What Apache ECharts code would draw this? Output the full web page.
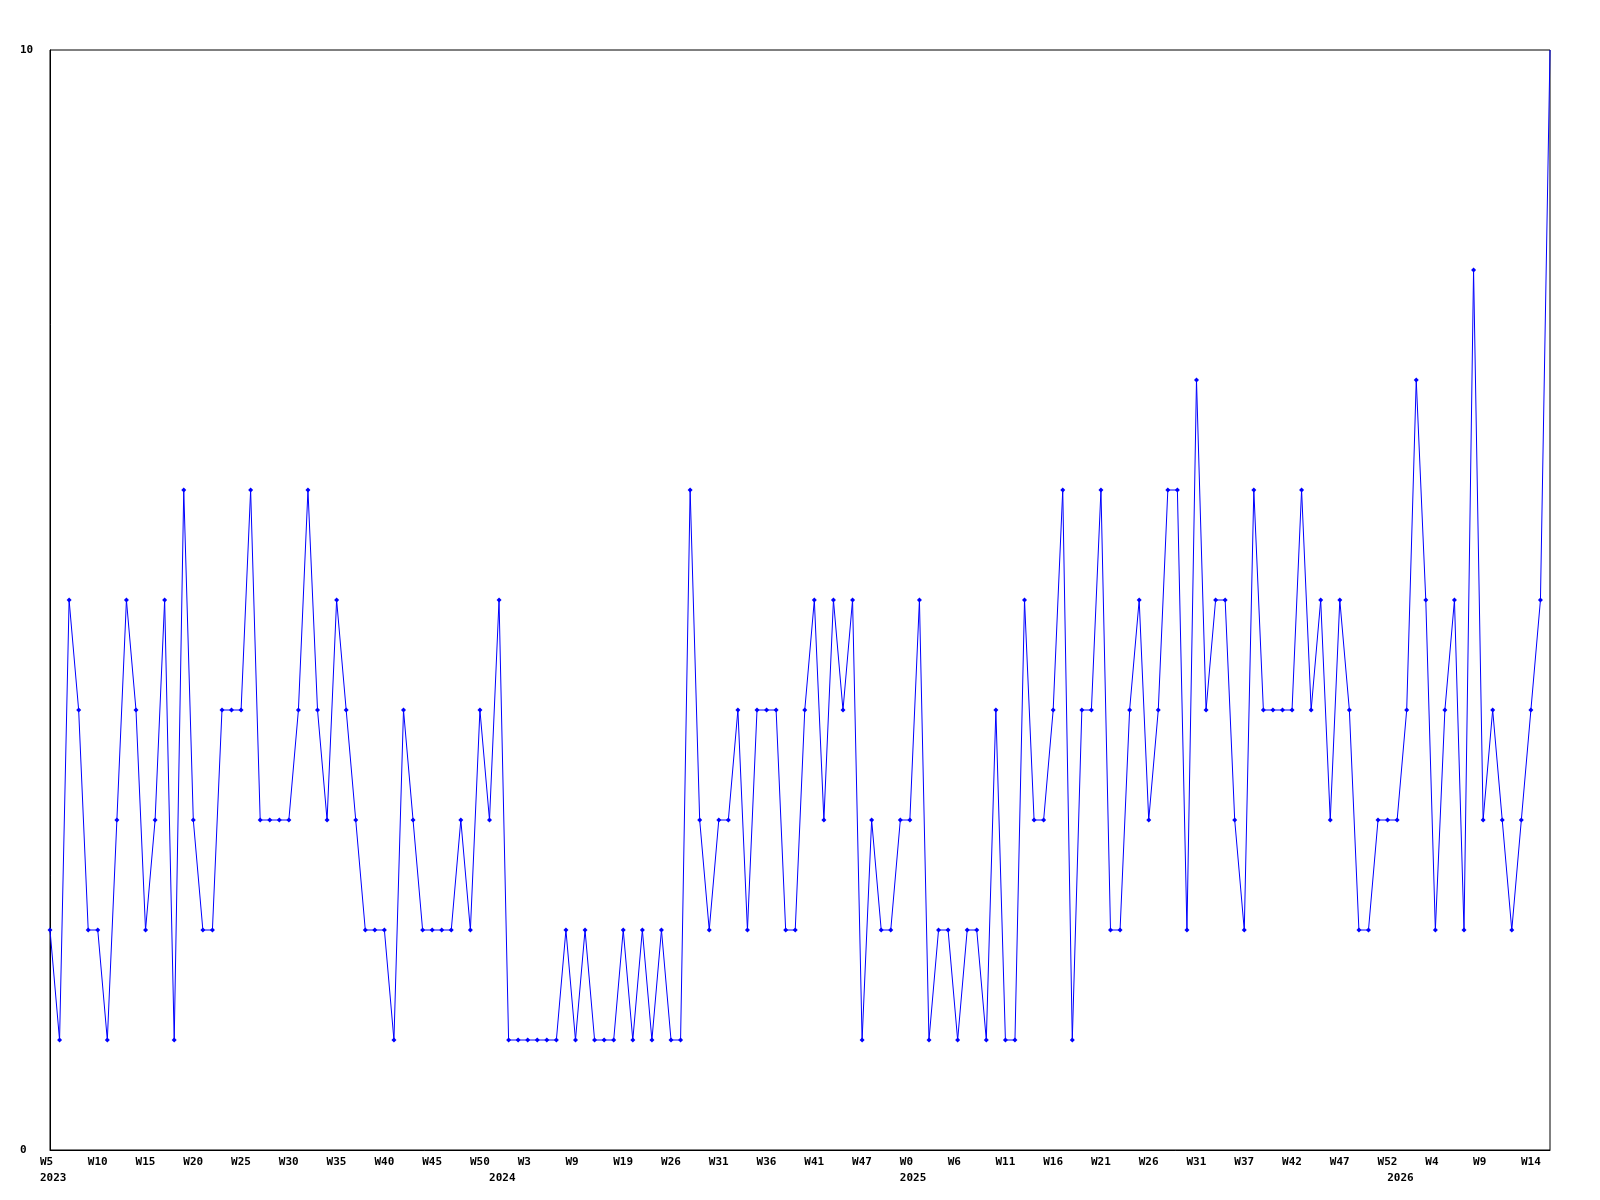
<!DOCTYPE html>
<html>
<head>
<meta charset="utf-8">
<script src="https://cdn.jsdelivr.net/npm/echarts@6/dist/echarts.min.js"></script>
<style>html,body{margin:0;padding:0;background:#fff}#c{width:1600px;height:1200px}</style>
</head>
<body>
<div id="c"></div>
<script>
// Weekly values, one per point (2023 W5 .. 2026 W15)
const values = [
  2,1,5,4,2,2,1,3,5,4, 2,3,5,1,6,3,2,2,4,4,
  4,6,3,3,3,3,4,6,4,3, 5,4,3,2,2,2,1,4,3,2,
  2,2,2,3,2,4,3,5,1,1, 1,1,1,1,2,1,2,1,1,1,
  2,1,2,1,2,1,1,6,3,2, 3,3,4,2,4,4,4,2,2,4,
  5,3,5,4,5,1,3,2,2,3, 3,5,1,2,2,1,2,2,1,4,
  1,1,5,3,3,4,6,1,4,4, 6,2,2,4,5,3,4,6,6,2,
  7,4,5,5,3,2,6,4,4,4, 4,6,4,5,3,5,4,2,2,3,
  3,3,4,7,5,2,4,5,2,8, 3,4,3,2,3,4,5,10
];
// Tick labels shown every 5th point
const tickLabels = ['W5','W10','W15','W20','W25','W30','W35','W40','W45','W50',
  'W3','W9','W19','W26','W31','W36','W41','W47','W0','W6',
  'W11','W16','W21','W26','W31','W37','W42','W47','W52','W4','W9','W14'];
const tickStep = 5;
// Year labels and the point index they sit under
const yearLabels = ['2023','2024','2025','2026'];
const yearStart = [0, 47, 90, 141];
const yTicks = [0, 10];

const cats = values.map((_, i) => String(i));
const font = {fontFamily: 'DejaVu Sans Mono', fontWeight: 'bold', fontSize: 11, color: '#000'};

const chart = echarts.init(document.getElementById('c'), null, {renderer: 'canvas'});
chart.setOption({
  animation: false,
  backgroundColor: '#fff',
  grid: {left: 50, right: 50, top: 50, bottom: 50, show: true, borderColor: '#000', borderWidth: 1},
  xAxis: [{
    type: 'category', data: cats, boundaryGap: false,
    axisLine: {lineStyle: {color: '#000', width: 1}},
    axisTick: {show: false},
    splitLine: {show: false},
    axisLabel: Object.assign({
      interval: tickStep - 1, margin: 7, align: 'left', padding: [0, 0, 0, -10],
      formatter: (v, i) => tickLabels[Math.round(i / tickStep)] || ''
    }, font)
  }, {
    type: 'category', data: cats, boundaryGap: false, position: 'bottom',
    axisLine: {show: false}, axisTick: {show: false}, splitLine: {show: false},
    axisLabel: Object.assign({
      interval: (i) => yearStart.indexOf(i) >= 0, margin: 23, align: 'left', padding: [0, 0, 0, -10],
      formatter: (v, i) => { const k = yearStart.indexOf(i); return k >= 0 ? yearLabels[k] : ''; }
    }, font)
  }],
  yAxis: {
    type: 'value', min: yTicks[0], max: yTicks[1], interval: yTicks[1] - yTicks[0],
    axisLine: {show: true, lineStyle: {color: '#000', width: 1}},
    axisTick: {show: false},
    splitLine: {show: false},
    axisLabel: Object.assign({align: 'left', margin: 30}, font)
  },
  series: [{
    type: 'line',
    xAxisIndex: 0,
    data: values.map((v, i) => i === values.length - 1 ? {value: v, symbol: 'none'} : v),
    symbol: 'diamond',
    symbolSize: 5,
    showAllSymbol: true,
    lineStyle: {color: '#0000ff', width: 1},
    itemStyle: {color: '#0000ff'},
    clip: false
  }]
});
</script>
</body>
</html>
